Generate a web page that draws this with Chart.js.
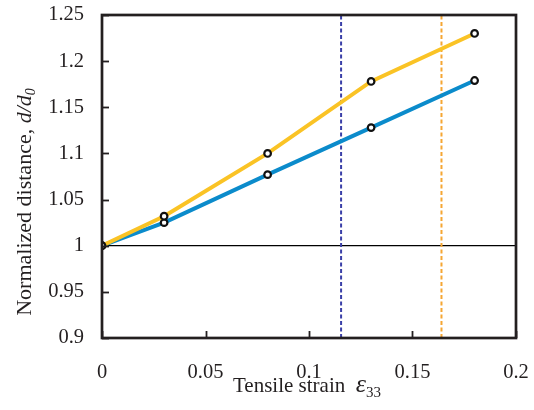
<!DOCTYPE html>
<html>
<head>
<meta charset="utf-8">
<script src="https://cdn.jsdelivr.net/npm/chart.js@4/dist/chart.umd.min.js"></script>
<style>
  html, body { margin: 0; padding: 0; background: #fff; }
  #wrap { width: 534px; height: 410px; position: relative; }
</style>
</head>
<body>
<div id="wrap"><canvas id="c"></canvas></div>
<script>
// strain values where distance was sampled
const strain = [0, 0.03, 0.08, 0.13, 0.18];
// normalized distance d/d0, two series
const upperSeries = [1, 1.032, 1.100, 1.178, 1.230];
const lowerSeries = [1, 1.025, 1.077, 1.128, 1.179];
// reference strains marked with dotted verticals
const markBlue = 0.1155;
const markOrange = 0.164;
const xTicks = [0, 0.05, 0.1, 0.15, 0.2];
const yTicks = [0.9, 0.95, 1, 1.05, 1.1, 1.15, 1.2, 1.25];

const INK = '#231f20';
const FONT = '"Liberation Serif", "Times New Roman", serif';

const pts = (ys) => strain.map((x, i) => ({ x, y: ys[i] }));

// box frame + inward tick marks + axis titles with italic/subscript parts
const framePlugin = {
  id: 'frame',
  afterDatasetsDraw(chart) {
    const { ctx, chartArea: a, scales: { x, y } } = chart;
    ctx.save();
    ctx.strokeStyle = INK;
    ctx.lineWidth = 1.8;
    yTicks.forEach(v => {
      const py = Math.round(y.getPixelForValue(v)) + 0.5;
      ctx.beginPath(); ctx.moveTo(a.left, py); ctx.lineTo(a.left + 7, py); ctx.stroke();
    });
    xTicks.forEach(v => {
      const px = Math.round(x.getPixelForValue(v)) + 0.5;
      ctx.beginPath(); ctx.moveTo(px, a.bottom); ctx.lineTo(px, a.bottom - 7); ctx.stroke();
    });
    ctx.lineWidth = 2.7;
    ctx.strokeRect(a.left, a.top, a.right - a.left, a.bottom - a.top);
    ctx.restore();
  },
  afterDraw(chart) {
    const { ctx } = chart;
    ctx.save();
    ctx.fillStyle = INK;
    ctx.textBaseline = 'alphabetic';

    // x title: "Tensile strain  ε33"
    const xParts = [
      { t: 'Tensile strain  ', f: `21px ${FONT}`, dy: 0 },
      { t: 'ε', f: `italic 26px ${FONT}`, dy: 0 },
      { t: '33', f: `15px ${FONT}`, dy: 5 }
    ];
    drawRun(ctx, xParts, 307, 392);

    // y title rotated: "Normalized distance, d/d0"
    ctx.translate(31, 202);
    ctx.rotate(-Math.PI / 2);
    const yParts = [
      { t: 'Normalized distance, ', f: `22px ${FONT}`, dy: 0 },
      { t: 'd/d', f: `italic 22px ${FONT}`, dy: 0 },
      { t: '0', f: `italic 14px ${FONT}`, dy: 4 }
    ];
    drawRun(ctx, yParts, 0, 0);
    ctx.restore();
  }
};

function drawRun(ctx, parts, cx, base) {
  let w = 0;
  parts.forEach(p => { ctx.font = p.f; p.w = ctx.measureText(p.t).width; w += p.w; });
  let px = cx - w / 2;
  ctx.textAlign = 'left';
  parts.forEach(p => { ctx.font = p.f; ctx.fillText(p.t, px, base + p.dy); px += p.w; });
}

const marker = {
  pointRadius: 3.3,
  pointBorderWidth: 2.2,
  pointBorderColor: '#111',
  pointBackgroundColor: '#fff',
  borderWidth: 4,
  tension: 0,
  fill: false
};

new Chart(document.getElementById('c'), {
  type: 'line',
  data: {
    datasets: [
      {
        data: [{ x: 0, y: 1 }, { x: 0.2, y: 1 }],
        borderColor: '#000', borderWidth: 1.2, pointRadius: 0, order: 5
      },
      {
        data: [{ x: markBlue, y: 0.9 }, { x: markBlue, y: 1.25 }],
        borderColor: '#3a3fa8', borderWidth: 2, borderDash: [4, 2.5], pointRadius: 0, order: 4
      },
      {
        data: [{ x: markOrange, y: 0.9 }, { x: markOrange, y: 1.25 }],
        borderColor: '#f5a633', borderWidth: 2, borderDash: [4, 2.5], pointRadius: 0, order: 4
      },
      { ...marker, data: pts(lowerSeries), borderColor: '#0b8bcb', order: 2 },
      { ...marker, data: pts(upperSeries), borderColor: '#fac325', order: 1 }
    ]
  },
  options: {
    responsive: true,
    maintainAspectRatio: false,
    animation: false,
    layout: { padding: { top: 15, right: 18, left: 0, bottom: 0 } },
    plugins: { legend: { display: false }, tooltip: { enabled: false } },
    scales: {
      x: {
        type: 'linear', min: 0, max: 0.2,
        afterBuildTicks: (s) => { s.ticks = xTicks.map(value => ({ value })); },
        afterFit: (s) => { s.height = 72; s.paddingLeft = 0; s.paddingRight = 0; },
        grid: { display: false, drawTicks: false },
        border: { display: false },
        ticks: {
          padding: 22, color: INK, font: { family: FONT, size: 20.5 },
          maxRotation: 0, callback: (v) => String(v)
        }
      },
      y: {
        min: 0.9, max: 1.25,
        afterBuildTicks: (s) => { s.ticks = yTicks.map(value => ({ value })); },
        afterFit: (s) => { s.width = 102; s.paddingTop = 0; s.paddingBottom = 0; },
        grid: { display: false, drawTicks: false },
        border: { display: false },
        ticks: {
          padding: 18, color: INK, font: { family: FONT, size: 20.5 },
          callback: (v) => String(Math.round(v * 100) / 100)
        }
      }
    }
  },
  plugins: [framePlugin]
});
</script>
</body>
</html>
